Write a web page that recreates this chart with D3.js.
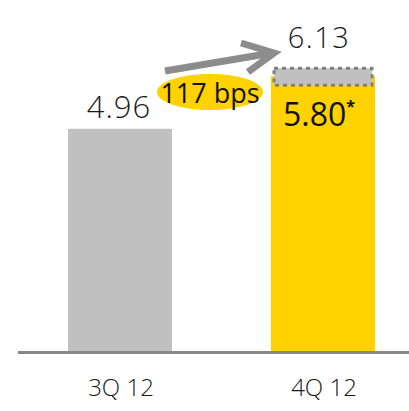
<!DOCTYPE html>
<html>
<head>
<meta charset="utf-8">
<script src="https://cdn.jsdelivr.net/npm/d3@7"></script>
<style>
  html, body { margin: 0; padding: 0; background: #fff; }
  svg { display: block; font-family: "Open Sans", "Noto Sans", sans-serif; font-weight: 300; }
</style>
</head>
<body>
<div id="chart"></div>
<script>
// data
const categories = ["3Q 12", "4Q 12"];
const values = [4.96, 6.13];
const valueLabels = ["4.96", "6.13"];
const adjustedValue = 5.80;
const adjustedLabel = "5.80";
const changeLabel = "117 bps";

const W = 409, H = 411;
const svg = d3.select("#chart").append("svg")
  .attr("width", W)
  .attr("height", H);

const x = d3.scalePoint()
  .domain(categories)
  .range([120, 323]);
const barW = 104;

const y = d3.scaleLinear()
  .domain([0, 7])
  .range([352, 37]);

const colors = ["#c0c0c0", "#ffd200"];

// bars
svg.selectAll("rect.bar")
  .data(categories)
  .join("rect")
  .attr("class", "bar")
  .attr("x", d => x(d) - barW / 2)
  .attr("width", barW)
  .attr("y", (d, i) => y(values[i]))
  .attr("height", (d, i) => y(0) - y(values[i]))
  .attr("fill", (d, i) => colors[i]);

// dashed box marking the 6.13 top
const top2 = y(values[1]);
svg.append("rect")
  .attr("x", x(categories[1]) - barW / 2 + 3)
  .attr("y", top2 - 8)
  .attr("width", barW - 6)
  .attr("height", 17)
  .attr("fill", "#c0c0c0")
  .attr("stroke", "#808080")
  .attr("stroke-width", 3)
  .attr("stroke-dasharray", "4,4");

// baseline
svg.append("line")
  .attr("x1", 18).attr("x2", W)
  .attr("y1", y(0) + 0.5).attr("y2", y(0) + 0.5)
  .attr("stroke", "#888")
  .attr("stroke-width", 3);

// category labels
svg.selectAll("text.cat")
  .data(categories)
  .join("text")
  .attr("class", "cat")
  .attr("x", d => x(d) + 1)
  .attr("y", 396)
  .attr("text-anchor", "middle")
  .attr("font-size", 24)
  .attr("fill", "#1a1a1a")
  .text(d => d);

// value labels above bars
svg.append("text")
  .attr("x", x(categories[0]) - 1)
  .attr("y", y(values[0]) - 11)
  .attr("text-anchor", "middle")
  .attr("font-size", 31)
  .attr("letter-spacing", 1)
  .attr("fill", "#1a1a1a")
  .text(valueLabels[0]);

svg.append("text")
  .attr("x", x(categories[1]) - 4)
  .attr("y", 48)
  .attr("text-anchor", "middle")
  .attr("font-size", 29)
  .attr("letter-spacing", 1.5)
  .attr("fill", "#1a1a1a")
  .text(valueLabels[1]);

// adjusted value inside the yellow bar
const adj = svg.append("text")
  .attr("x", 283)
  .attr("y", 126)
  .attr("font-size", 32)
  .attr("font-weight", 400)
  .attr("fill", "#111")
  .text(adjustedLabel);
adj.append("tspan")
  .attr("dy", -14)
  .attr("font-size", 16)
  .attr("font-weight", "bold")
  .text("*");

// arrow
const arrow = svg.append("g")
  .attr("fill", "none")
  .attr("stroke", "#8c8c8c")
  .attr("stroke-width", 7)
  .attr("stroke-linejoin", "miter");
arrow.append("line")
  .attr("x1", 165).attr("y1", 71)
  .attr("x2", 272).attr("y2", 53);
arrow.append("polyline")
  .attr("points", "241,43 274,53 248,72");

// change bubble
svg.append("ellipse")
  .attr("cx", 210).attr("cy", 92)
  .attr("rx", 53).attr("ry", 18)
  .attr("fill", "#ffd200");
svg.append("text")
  .attr("x", 210).attr("y", 103)
  .attr("text-anchor", "middle")
  .attr("font-size", 27)
  .attr("font-weight", 400)
  .attr("fill", "#111")
  .text(changeLabel);
</script>
</body>
</html>
